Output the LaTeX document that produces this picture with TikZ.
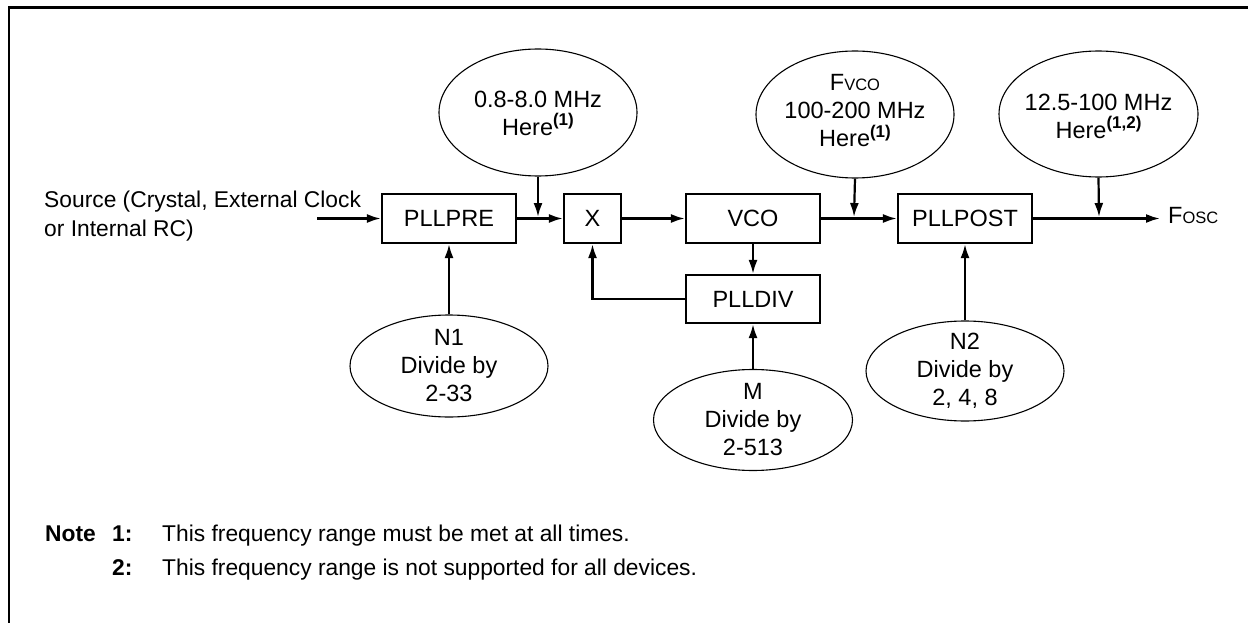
\documentclass[tikz,border=0pt]{standalone}
\usepackage{fontspec}
\setmainfont{Liberation Sans}
\usetikzlibrary{arrows.meta,shapes.geometric}
\newcommand\fs{\fontsize{23.5}{28}\selectfont}
\newcommand\fsn{\fontsize{22.8}{29}\selectfont}
\newcommand\smc[1]{{\fontsize{16.5}{16.5}\selectfont #1}}
\newcommand\myspr[1]{\raisebox{0.42em}{\fontsize{17}{17}\selectfont\bfseries #1}}
\begin{document}
\begin{tikzpicture}[x=1pt,y=-1pt,
  boxn/.style={draw, line width=2.2pt, minimum height=49pt, inner sep=0pt, font=\fs},
  ell/.style={draw, ellipse, line width=1.1pt, inner sep=0pt},
  etxt/.style={align=center, inner sep=0pt, font=\fs},
  conn/.style={line width=2.2pt, -{Latex[length=14pt,width=9pt]}},
  notet/.style={anchor=base west, inner sep=0pt, font=\fsn}
]
\useasboundingbox (0,0) rectangle (1248,623);
% frame
\draw[line width=2.4pt] (1252,7.5) -- (9,7.5) -- (9,627);

% boxes
\node[boxn, minimum width=134pt] (pre) at (449,218.5) {PLLPRE};
\node[boxn, minimum width=57pt] (mul) at (592.5,218.5) {X};
\node[boxn, minimum width=134pt] (vco) at (753,218.5) {VCO};
\node[boxn, minimum width=134pt, minimum height=48pt] (div) at (753,299) {PLLDIV};
\node[boxn, minimum width=134pt] (post) at (965,218.5) {PLLPOST};

% top ellipses
\node[ell, minimum width=198pt, minimum height=127pt] (e1) at (538,112.5) {};
\node[etxt] (e1t) at (538,113) {0.8-8.0 MHz\\Here\myspr{(1)}};
\node[ell, minimum width=198pt, minimum height=127pt] (e2) at (855,114.5) {};
\node[etxt] (e2t) at (855,111) {F\smc{VCO}\\100-200 MHz\\Here\myspr{(1)}};
\node[ell, minimum width=199pt, minimum height=126pt] (e3) at (1098.5,114) {};
\node[etxt] (e3t) at (1098.5,116) {12.5-100 MHz\\Here\myspr{(1,2)}};

% bottom ellipses
\node[ell, minimum width=198pt, minimum height=102pt] (n1) at (449,366) {};
\node[etxt] (n1t) at (449,366) {N1\\Divide by\\2-33};
\node[ell, minimum width=199pt, minimum height=101pt] (m) at (753,420) {};
\node[etxt] (mt) at (753,420) {M\\Divide by\\2-513};
\node[ell, minimum width=198pt, minimum height=100pt] (n2) at (965,371) {};
\node[etxt] (n2t) at (965,371) {N2\\Divide by\\2, 4, 8};

% source and output
\node[anchor=west, align=left, inner sep=0pt, font=\fsn] (src) at (44,216.5) {Source (Crystal, External Clock\\or Internal RC)};
\coordinate (srcend) at (317,218.5);
\coordinate (outend) at (1160,218.5);
\node[anchor=base west, inner sep=0pt, font=\fs] (fosc) at (1168,223) {F\smc{OSC}};

% junction points
\coordinate (j1) at (538,217);
\coordinate (j2) at (854,217);
\coordinate (j3) at (1099,217);

% connectors
\draw[conn] (srcend) -- (pre.west);
\draw[conn] (pre.east) -- (mul.west);
\draw[conn] (mul.east) -- (vco.west);
\draw[conn] (vco.south) -- (div.north);
\draw[conn] (div.west) -| (mul.south);
\draw[conn] (vco.east) -- (post.west);
\draw[conn] (post.east) -- (outend);
\draw[conn] (e1.south) -- (j1);
\draw[conn] (e2.south) -- (j2);
\draw[conn] (e3.south) -- (j3);
\draw[conn] (n1.north) -- (pre.south);
\draw[conn] (m.north) -- (div.south);
\draw[conn] (n2.north) -- (post.south);

% notes
\node[notet, font=\fsn\bfseries] (note) at (45,541) {Note};
\node[notet, font=\fsn\bfseries] (n1l) at (112,541) {1:};
\node[notet] (n1x) at (162,541) {This frequency range must be met at all times.};
\node[notet, font=\fsn\bfseries] (n2l) at (112,575) {2:};
\node[notet] (n2x) at (162,575) {This frequency range is not supported for all devices.};
\end{tikzpicture}
\end{document}
